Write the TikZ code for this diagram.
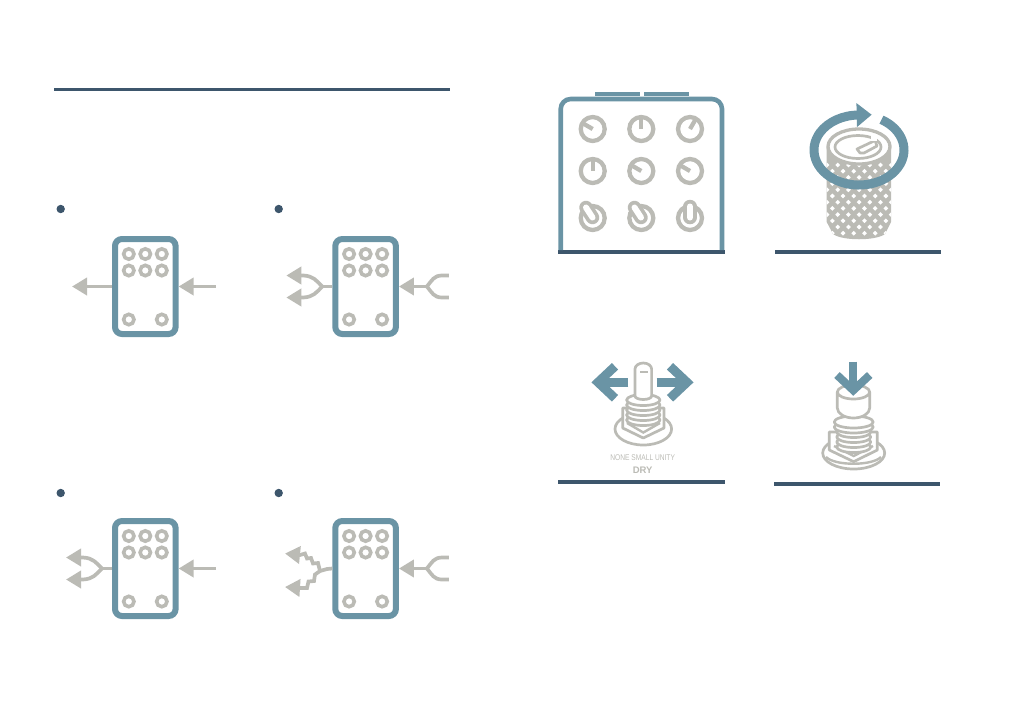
\documentclass[tikz,border=0pt]{standalone}
\usepackage{fontspec}
\setmainfont{Liberation Sans}
\newfontfamily\panelfont[FakeStretch=0.8]{Liberation Sans}
\usetikzlibrary{arrows.meta,calc}
\definecolor{pedalteal}{HTML}{6A94A5}
\definecolor{ruledark}{HTML}{3D566C}
\definecolor{partgray}{HTML}{BBBBB5}
\tikzset{pedal/.style={draw=pedalteal, line width=6pt, rounded corners=7pt, minimum width=60.6pt, minimum height=95pt, inner sep=0pt},
sig/.style={draw=partgray, line width=3.7pt, -{Triangle[length=15pt,width=17pt]}},
wire/.style={draw=partgray, line width=3.7pt},
ring/.style={draw=partgray, line width=4.3pt},
smallring/.style={draw=partgray, line width=3.6pt},
part/.style={draw=partgray, line width=2.7pt, fill=white, line join=round},
thread/.style={draw=partgray, line width=2.4pt},
rule/.style={fill=ruledark},
move/.style={draw=pedalteal, line width=9pt, miter limit=10},
bullet/.style={fill=ruledark},
caption/.style={text=partgray, inner sep=0pt}
}

\begin{document}
\begin{tikzpicture}[x=1pt, y=-1pt]
    \useasboundingbox (0,0) rectangle (1009,721);
    % Rules
    \fill [rule] (54,88) rectangle (450,90.5);
    \fill [rule] (558,250) rectangle (725,254);
    \fill [rule] (775,250) rectangle (941,254);
    \fill [rule] (558,480) rectangle (725,484);
    \fill [rule] (774,482) rectangle (940,486);
    % Bullets
    \foreach \bx/\by in {60.7/209, 278.7/209, 60.7/493, 278.7/493}
      \fill [bullet] (\bx,\by) circle [radius=4.2];
    % Pedals
    \node [pedal] (pedalA) at (145.3,286.5) {};
    \node [pedal] (pedalB) at (365.6,286.5) {};
    \node [pedal] (pedalC) at (145.3,568.5) {};
    \node [pedal] (pedalD) at (365.6,568.5) {};
    \foreach \px/\py in {145.3/286.5, 365.6/286.5, 145.3/568.5, 365.6/568.5} {
      \foreach \kx in {-16.5,0,16.5}
        \foreach \ky in {-32.5,-16}
          \draw [smallring] (\px+\kx,\py+\ky) circle [radius=5.2];
      \foreach \kx in {-16.5,16.5}
        \draw [smallring] (\px+\kx,\py+33) circle [radius=5.2];
    }
    % Arrows
    \coordinate (outA) at (72,286.5);
    \coordinate (inA) at (216,286.5);
    \draw [sig] (pedalA.west) -- (outA);
    \draw [sig] (inA) -- (pedalA.east);
    \coordinate (inC) at (216,568.5);
    \draw [sig] (inC) -- (pedalC.east);
    % Forks
    \foreach \pedalname in {pedalB, pedalC} {
      \coordinate (fork) at ($(\pedalname.west)+(-10,0)$);
      \coordinate (upTip) at ($(\pedalname.west)+(-46,-11)$);
      \coordinate (downTip) at ($(\pedalname.west)+(-46,11)$);
      \draw [wire] (\pedalname.west) -- (fork);
      \draw [sig] (fork) .. controls ($(fork)+(-6,-6)$) and ($(fork)+(-9,-10.5)$) .. ($(fork)+(-19,-11)$) -- (upTip);
      \draw [sig] (fork) .. controls ($(fork)+(-6,6)$) and ($(fork)+(-9,10.5)$) .. ($(fork)+(-19,11)$) -- (downTip);
    }
    \foreach \pedalname in {pedalB, pedalD} {
      \coordinate (join) at ($(\pedalname.east)+(28,0)$);
      \coordinate (inUp) at ($(\pedalname.east)+(50,-11)$);
      \coordinate (inDown) at ($(\pedalname.east)+(50,11)$);
      \draw [sig] (join) -- (\pedalname.east);
      \draw [wire] (join) .. controls ($(join)+(5,-6)$) and ($(join)+(7,-11)$) .. ($(join)+(15,-11)$) -- (inUp);
      \draw [wire] (join) .. controls ($(join)+(5,6)$) and ($(join)+(7,11)$) .. ($(join)+(15,11)$) -- (inDown);
    }
    % Jagged fork
    \coordinate (jagUp) at (285,553.5);
    \coordinate (jagDown) at (285,587);
    \draw [wire] (pedalD.west) -- (327,569) -- (320,571);
    \draw [sig] (320,571) -- (318,563) -- (313,563.5) -- (311,558) -- (307,558.5) -- (305,553.5) -- (300,555) -- (jagUp);
    \draw [sig] (320,571) -- (315,574.5) -- (314,581) -- (308.5,581.5) -- (307,588) -- (301,588) -- (jagDown);
    % Big pedal
    \fill [pedalteal] (595,92) rectangle (640,96);
    \fill [pedalteal] (644,92) rectangle (689,96);
    \draw [draw=pedalteal, line width=4.6pt, rounded corners=10pt] (560.7,250) -- (560.7,99) -- (722,99) -- (722,250);
    \foreach \kx/\ky/\ka in {592.7/129/150, 641.3/129/90, 690/129/60, 592.7/171/90, 641.3/171/150, 690/171/150} {
      \draw [ring] (\kx,\ky) circle [radius=12];
      \draw [ring] (\kx,\ky) -- ++(\ka:11 and -11);
    }
    \foreach \kx/\tx/\ty/\bx/\by in {592.7/586/207.5/592.5/217.5, 641.3/634.5/207.5/641/217.5, 690/690/206.5/690/217.5} {
      \draw [ring] (\kx,218) circle [radius=12];
      \draw [draw=partgray, line width=13.5pt, line cap=round] (\tx,\ty) -- (\bx,\by);
      \draw [draw=white, line width=6pt, line cap=round] (\tx,\ty) -- (\bx,\by);
    }
    % Knurled knob
    \begin{scope}
      \clip (826.7,147) -- (826.7,222) -- (833,234) .. controls (842,241) and (876,241) .. (885,234) -- (891,222) -- (891,147) -- cycle;
      \fill [partgray] (820,140) rectangle (900,245);
      \foreach \row in {0,...,11}
        \foreach \col in {0,...,6}
          \fill [white] ({827+\col*10.7+mod(\row,2)*5.35},{165+\row*6.2}) +(-2.4,0) -- +(0,-2.4) -- +(2.4,0) -- +(0,2.4) -- cycle;
    \end{scope}
    \draw [part, line width=3.3pt] (859,146.5) ellipse [x radius=31, y radius=17.5];
    \draw [part] (858,147) ellipse [x radius=23, y radius=11.5];
    \draw [part, fill=white] (857,149) -- (875,140.5) -- (877,146) -- (864,153) -- (860,153) -- cycle;
    \fill [white] (871,134) rectangle (877,141);
    \draw [draw=pedalteal, line width=9pt, -{Triangle[length=15pt,width=23pt]}] (881.5,119.7) arc [start angle=-60, end angle=270, x radius=45, y radius=35] -- (871.7,114.7);
    % Toggle
    \draw [part] (643.3,429) ellipse [x radius=28.3, y radius=16];
    \draw [part] (622.7,408) -- (622.7,428) -- (643.3,438) -- (664,428) -- (664,408) -- cycle;
    \draw [thread] (627,423) -- (643.3,432.5) -- (660,423);
    \foreach \ty in {420,415,410,405,400}
      \draw [part] (643.3,\ty) ellipse [x radius=16.7, y radius=5.5];
    \draw [part] (635,396) -- (635,369) arc [start angle=180, end angle=360, x radius=8.3, y radius=6] -- (651.6,396) arc [start angle=0, end angle=180, x radius=8.3, y radius=3.5];
    \draw [thread, line width=1.2pt] (640,372) -- (648,372);
    \coordinate (leftEnd) at (628.3,382.3);
    \coordinate (leftTip) at (598,382.3);
    \coordinate (rightEnd) at (656.7,382.3);
    \coordinate (rightTip) at (687,382.3);
    \draw [move] (leftEnd) -- (leftTip);
    \draw [move] (615,366.3) -- (leftTip) -- (615,398.3);
    \draw [move] (rightEnd) -- (rightTip);
    \draw [move] (670,366.3) -- (rightTip) -- (670,398.3);
    \node [caption, font=\panelfont\fontsize{8.3}{9}\selectfont] (dryScale) at (642.7,457.3) {NONE SMALL UNITY};
    \node [caption, font=\bfseries\fontsize{9.5}{10}\selectfont] (dryName) at (642.7,470) {DRY};
    % Push button
    \draw [part] (853.7,453) ellipse [x radius=31, y radius=16];
    \draw [thread] (826,457) .. controls (835,466) and (872,466) .. (881,457);
    \draw [part] (829.3,432) -- (829.3,450) -- (853.7,461.7) -- (877.3,450) -- (877.3,432) -- cycle;
    \draw [thread] (834,446) -- (853.7,456) -- (873,446);
    \foreach \ty in {447,442,437,432}
      \draw [part] (853.7,\ty) ellipse [x radius=17, y radius=5.5];
    \foreach \ty in {427,422}
      \draw [part] (853.7,\ty) ellipse [x radius=19.5, y radius=6];
    \draw [part] (837.3,392) -- (837.3,408) arc [start angle=180, end angle=0, x radius=16.2, y radius=10] -- (869.7,392) arc [start angle=0, end angle=360, x radius=16.2, y radius=7];
    \coordinate (pushEnd) at (853.3,361.7);
    \coordinate (pushTip) at (853.3,390.3);
    \draw [move, line width=8pt] (pushEnd) -- (pushTip);
    \draw [move, line width=8pt] (837,375) -- (pushTip) -- (869.7,375);
\end{tikzpicture}
\end{document}
